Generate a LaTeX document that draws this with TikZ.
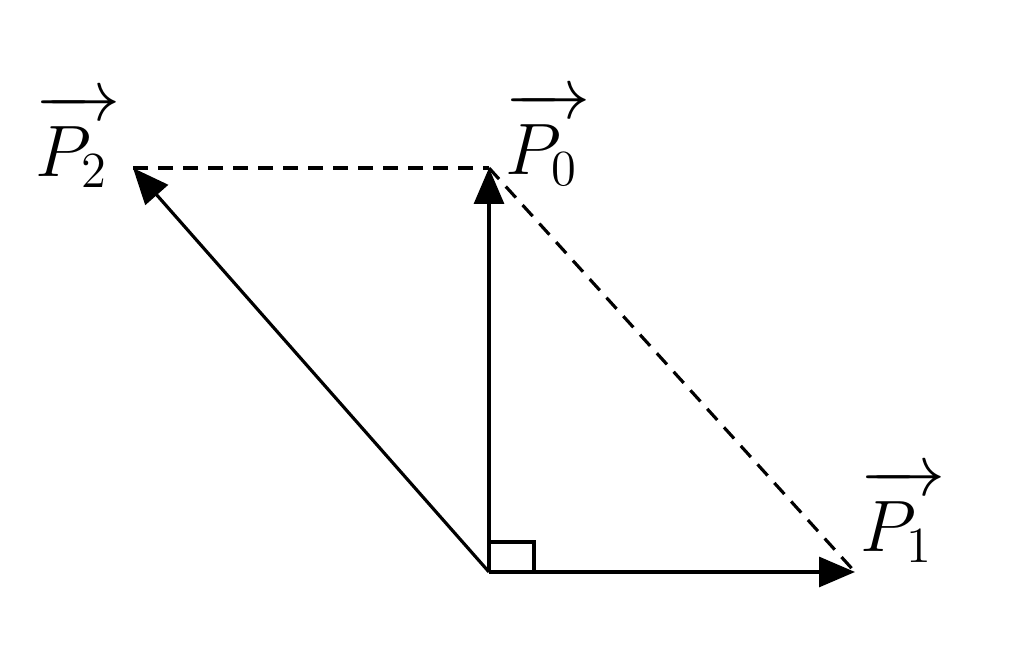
\documentclass[tikz,border=0pt]{standalone}
\usetikzlibrary{arrows.meta,calc}
\newcommand{\vecl}[1]{\overrightarrow{\rule{0pt}{0.78em}#1\,}}
\begin{document}
\begin{tikzpicture}[
  vec/.style={line width=0.9pt,-{Triangle[length=0.36cm,width=0.30cm]}},
  dashline/.style={line width=0.9pt,dash pattern=on 0.15cm off 0.10cm},
  lab/.style={anchor=base west,inner sep=0pt,font=\fontsize{22}{26}\selectfont}
]
\useasboundingbox (0,0) rectangle (10.24,6.47);
\coordinate (O) at (4.89,0.75);
\coordinate (P1) at (8.55,0.75);
\coordinate (P0) at (4.89,4.79);
\coordinate (P2) at (1.33,4.79);
\draw[dashline] (P2) -- (P0);
\draw[dashline] (P0) -- (P1);
\draw[vec] (O) -- (P1);
\draw[vec] (O) -- (P0);
\draw[vec] (O) -- (P2);
\draw[line width=0.9pt] ($(O)+(0,0.30)$) -- ++(0.45,0) -- ++(0,-0.30);
\node[lab] (L2) at (0.35,4.70) {$\vecl{P_2}$};
\node[lab] (L0) at (5.05,4.72) {$\vecl{P_0}$};
\node[lab] (L1) at (8.60,0.95) {$\vecl{P_1}$};
\end{tikzpicture}
\end{document}
